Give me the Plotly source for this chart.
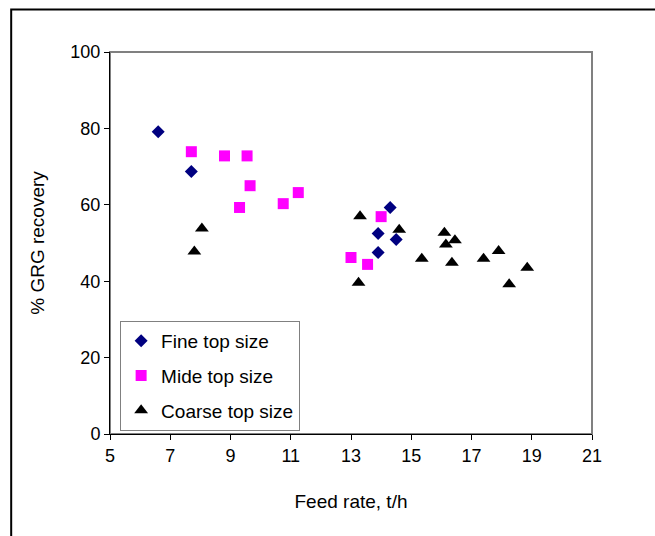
import plotly.graph_objects as go

# Feed rate (t/h) vs % GRG recovery for three feed top sizes
fine_x = [6.6, 7.7, 14.3, 13.9, 14.5, 13.9]
fine_y = [79.1, 68.7, 59.3, 52.5, 50.9, 47.5]

mid_x = [7.7, 8.8, 9.55, 9.65, 9.3, 10.75, 11.25, 14.0, 13.0, 13.55]
mid_y = [73.9, 72.8, 72.8, 65.0, 59.3, 60.3, 63.2, 56.9, 46.2, 44.4]

coarse_x = [8.05, 7.8, 13.3, 14.6, 16.1, 16.15, 16.45, 15.35, 16.35, 17.4, 17.9, 18.85, 18.25, 13.25]
coarse_y = [53.8, 47.8, 57.0, 53.5, 52.7, 49.6, 50.7, 45.9, 44.8, 45.9, 47.9, 43.5, 39.2, 39.6]

x_ticks = [5, 7, 9, 11, 13, 15, 17, 19, 21]
y_ticks = [0, 20, 40, 60, 80, 100]

FONT = "Liberation Sans, Arial, sans-serif"

fig = go.Figure()
fig.add_trace(go.Scatter(
    x=fine_x, y=fine_y, mode="markers", name="Fine top size",
    legendgroup="fine",
    marker=dict(symbol="diamond", size=10, color="#000080"),
))
fig.add_trace(go.Scatter(
    x=mid_x, y=mid_y, mode="markers", name="Mide top size",
    legendgroup="mid",
    marker=dict(symbol="square", size=11, color="#FF00FF"),
))
fig.add_trace(go.Scatter(
    x=coarse_x, y=coarse_y, mode="markers", name="Coarse top size",
    legendgroup="coarse",
    marker=dict(symbol="triangle-up", size=12, color="#000000"),
))

axis_common = dict(
    showgrid=False, zeroline=False, showline=True, linecolor="black",
    linewidth=1, ticks="outside", ticklen=5, tickcolor="black",
    tickfont=dict(family=FONT, size=18, color="black"),
)

fig.update_xaxes(
    range=[5, 21], tickvals=x_ticks, ticktext=[str(v) for v in x_ticks],
    title=dict(text="Feed rate, t/h", font=dict(family=FONT, size=19, color="black"), standoff=30),
    **axis_common,
)
fig.update_yaxes(
    range=[0, 100], tickvals=y_ticks, ticktext=[str(v) for v in y_ticks],
    title=dict(text="% GRG recovery", font=dict(family=FONT, size=19, color="black"), standoff=20),
    **axis_common,
)

# Gray plot-area frame and the black outer chart border
fig.add_shape(type="rect", xref="x domain", yref="y domain", x0=0, y0=0, x1=1, y1=1,
              line=dict(color="#808080", width=2), layer="below")
fig.add_shape(type="rect", xref="paper", yref="paper", x0=-0.205, y0=-0.33, x1=1.27, y1=1.111,
              line=dict(color="black", width=2), layer="below")

fig.update_layout(
    width=655, height=536,
    margin=dict(l=110, r=63, t=52, b=102),
    paper_bgcolor="white", plot_bgcolor="white",
    font=dict(family=FONT, size=18, color="black"),
    showlegend=True,
    legend=dict(
        x=0.021, y=0.296, xanchor="left", yanchor="top",
        bgcolor="white", bordercolor="#808080", borderwidth=1,
        font=dict(family=FONT, size=19, color="black"),
        traceorder="grouped", tracegroupgap=7,
        itemwidth=30,
    ),
)

fig.write_html("out.html")
